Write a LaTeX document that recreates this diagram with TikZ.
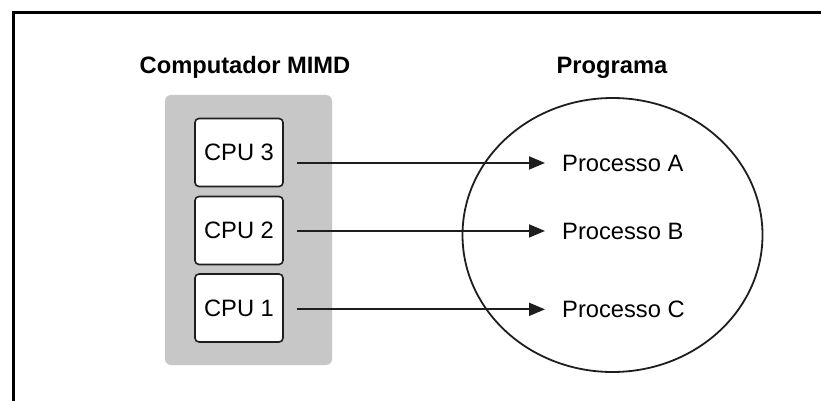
\documentclass[tikz,border=0pt]{standalone}
\usepackage{fontspec}
\setmainfont{Liberation Sans}
\usetikzlibrary{arrows.meta,calc}
\definecolor{panelgray}{RGB}{199,199,199}
\definecolor{ink}{RGB}{30,30,30}
\begin{document}
\begin{tikzpicture}[x=1pt,y=-1pt,
 cpubox/.style={draw=ink,line width=1.6pt,fill=white,rounded corners=4pt,minimum width=88pt,minimum height=68pt,inner sep=0pt,font=\fontsize{23.7}{28}\selectfont},
 proc/.style={anchor=base west,inner sep=0pt,font=\fontsize{23.7}{28}\selectfont},
 title/.style={anchor=base,inner sep=0pt,font=\fontsize{23.7}{28}\selectfont\bfseries},
 link/.style={draw=ink,line width=1.8pt,-{Triangle[length=16pt,width=13pt]},shorten <=13pt,shorten >=17pt}]
\useasboundingbox (0,0) rectangle (821,401);
\fill[white] (0,0) rectangle (821,401);
\draw[line width=3pt] (13.5,401) -- (13.5,12.5) -- (821,12.5);
\node[title] (t1) at (245,74) {Computador MIMD};
\node[title] (t2) at (612,74) {Programa};
\fill[panelgray, rounded corners=6pt] (165,95) rectangle (332,365);
\node[cpubox] (cpu3) at (239,152.5) {CPU 3};
\node[cpubox] (cpu2) at (239,230.5) {CPU 2};
\node[cpubox] (cpu1) at (239,308) {CPU 1};
\draw[ink,line width=1.8pt] (612.5,235) ellipse [x radius=150, y radius=137];
\node[proc] (pA) at (562,171) {Processo A};
\node[proc] (pB) at (562,239) {Processo B};
\node[proc] (pC) at (562,317.5) {Processo C};
\draw[link] (cpu3.east |- pA.west) -- (pA.west);
\draw[link] (cpu2.east |- pB.west) -- (pB.west);
\draw[link] (cpu1.east |- pC.west) -- (pC.west);
\end{tikzpicture}
\end{document}
